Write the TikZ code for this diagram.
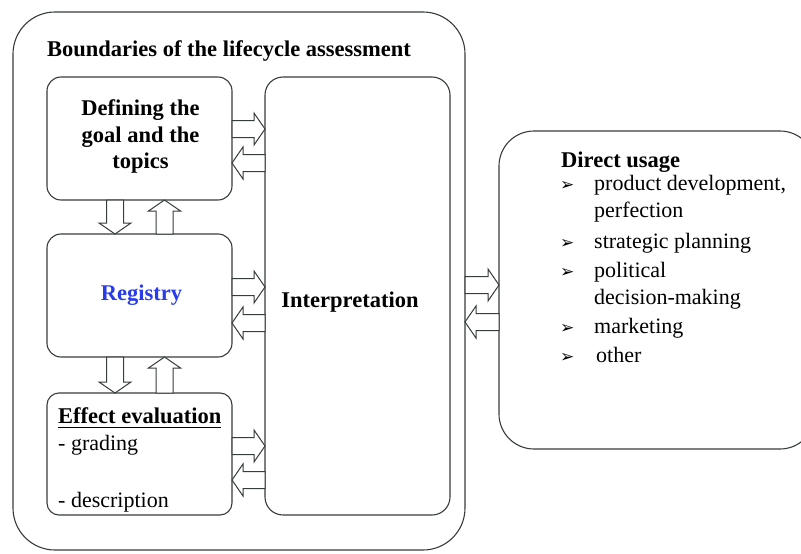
\documentclass[tikz,border=0pt]{standalone}
\usepackage{fontspec}
\setmainfont{Liberation Serif}
\newfontfamily\symfont{DejaVu Sans}
\usetikzlibrary{calc}

\definecolor{linegray}{RGB}{55,60,60}
\definecolor{regblue}{RGB}{40,60,235}

\tikzset{
  box/.style={draw=linegray, line width=1.1pt, rounded corners=#1,
    anchor=north west, inner sep=0pt, outer sep=0pt},
  blockarrow/.style={draw=linegray, line width=1pt, fill=white, line join=miter},
  hd/.style={font=\fontsize{22.5}{27}\selectfont\bfseries, anchor=base, inner sep=0pt},
  txt/.style={font=\fontsize{22}{26}\selectfont, anchor=base west, inner sep=0pt},
  bul/.style={font=\symfont\fontsize{17}{17}\selectfont, anchor=base west, inner sep=0pt},
}

% hollow block arrow from #1 to #2 (shaft half-width 8.5, head half-width 16, head length 11)
\newcommand\hollowarrow[2]{%
  \coordinate (ha) at #1;
  \coordinate (hb) at #2;
  \coordinate (hh) at ($(hb)!11pt!(ha)$);
  \draw[blockarrow]
    ($(ha)!8.5pt!90:(hb)$) -- ($(hh)!8.5pt!90:(hb)$) -- ($(hh)!16pt!90:(hb)$)
    -- (hb) -- ($(hh)!16pt!-90:(hb)$) -- ($(hh)!8.5pt!-90:(hb)$)
    -- ($(ha)!8.5pt!-90:(hb)$) -- cycle;
}

\begin{document}
\begin{tikzpicture}[x=1pt,y=-1pt]
\clip (0,0) rectangle (801,554);

% frames
\node[box=42pt, minimum width=452pt, minimum height=538pt] (outer) at (13,12) {};
\node[box=14pt, minimum width=185pt, minimum height=123pt] (def) at (47,77) {};
\node[box=14pt, minimum width=185pt, minimum height=123pt] (reg) at (47,234) {};
\node[box=12pt, minimum width=185pt, minimum height=122pt] (eff) at (47,393) {};
\node[box=18pt, minimum width=185pt, minimum height=438pt] (interp) at (265,77) {};
\node[box=35pt, minimum width=316pt, minimum height=318pt] (direct) at (499,131) {};

% texts
\node[hd, anchor=base west] (title) at (47,56) {Boundaries of the lifecycle assessment};
\node[hd] (def1) at (140.5,115) {Defining the};
\node[hd] (def2) at (140.5,142) {goal and the};
\node[hd] (def3) at (140.5,168) {topics};
\node[hd, text=regblue] (regtext) at (141.5,300) {Registry};
\node[hd] (interptext) at (350,307) {Interpretation};
\node[hd, anchor=base west] (efftitle) at (58,423) {Effect evaluation};
\draw[line width=1.6pt] ($(efftitle.base west)+(0,4.5)$) -- ($(efftitle.base east)+(0,4.5)$);
\node[txt] (grading) at (58,450) {- grading};
\node[txt] (descr) at (58,507) {- description};

\node[hd, anchor=base west] (dutitle) at (561,167) {Direct usage};
\node[bul] (b1) at (560,190) {➢};
\node[txt] (u1) at (594,190) {product development,};
\node[txt] (u1b) at (594,217) {perfection};
\node[bul] (b2) at (560,248) {➢};
\node[txt] (u2) at (594,248) {strategic planning};
\node[bul] (b3) at (560,277) {➢};
\node[txt] (u3) at (594,277) {political};
\node[txt] (u3b) at (594,304) {decision-making};
\node[bul] (b4) at (560,333) {➢};
\node[txt] (u4) at (594,333) {marketing};
\node[bul] (b5) at (560,362) {➢};
\node[txt] (u5) at (596,362) {other};

% arrows between the stages and the interpretation
\hollowarrow{($(def.east)+(0,-9.5)$)}{($(def.east -| interp.west)+(0,-9.5)$)}
\hollowarrow{($(def.east -| interp.west)+(0,24.5)$)}{($(def.east)+(0,24.5)$)}
\hollowarrow{($(reg.east)+(0,-8.5)$)}{($(reg.east -| interp.west)+(0,-8.5)$)}
\hollowarrow{($(reg.east -| interp.west)+(0,27.5)$)}{($(reg.east)+(0,27.5)$)}
\hollowarrow{($(eff.east)+(0,-8)$)}{($(eff.east -| interp.west)+(0,-8)$)}
\hollowarrow{($(eff.east -| interp.west)+(0,26)$)}{($(eff.east)+(0,26)$)}

% arrows between the stages
\hollowarrow{($(def.south)+(-24.5,0)$)}{($(reg.north)+(-24.5,0)$)}
\hollowarrow{($(reg.north)+(25,0)$)}{($(def.south)+(25,0)$)}
\hollowarrow{($(reg.south)+(-24.5,0)$)}{($(eff.north)+(-24.5,0)$)}
\hollowarrow{($(eff.north)+(25,0)$)}{($(reg.south)+(25,0)$)}

% arrows between the assessment and its direct usage
\hollowarrow{($(outer.east)+(0,4)$)}{($(outer.east -| direct.west)+(0,4)$)}
\hollowarrow{($(outer.east -| direct.west)+(0,41)$)}{($(outer.east)+(0,41)$)}
\end{tikzpicture}
\end{document}
